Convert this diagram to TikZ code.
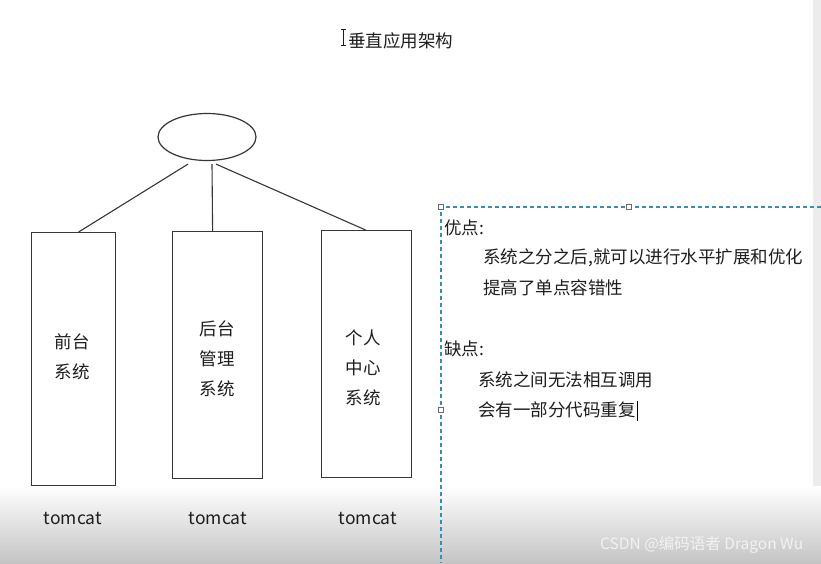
\documentclass[tikz,border=0pt]{standalone}
\usepackage{fontspec}
\setmainfont{Noto Sans CJK SC}
\usepackage{tikz}
\usetikzlibrary{positioning, shapes.geometric, calc}
\definecolor{BoxInk}{HTML}{363636}
\definecolor{TextInk}{HTML}{1E1E1E}
\definecolor{SelLine}{HTML}{3A8DB2}
\definecolor{HandleInk}{HTML}{6A6A6A}
\definecolor{BandGray}{HTML}{ECECEC}
\definecolor{FadeGray}{HTML}{C4C4C4}
\definecolor{MarkGray}{HTML}{F2F2F2}

\begin{document}
\begin{tikzpicture}[
    x=1pt, y=-1pt,
    font=\fontsize{17.5}{30}\selectfont,
    sysbox/.style={
      draw=BoxInk,
      line width=1.2pt,
      inner sep=0pt,
      anchor=north west,
    },
    boxtext/.style={
      align=center,
      inner sep=0pt,
      text=TextInk,
    },
    tclabel/.style={
      inner sep=0pt,
      text=TextInk,
    },
    note/.style={
      anchor=west,
      inner sep=0pt,
      text=TextInk,
    },
    handle/.style={
      draw=HandleInk,
      fill=white,
      line width=0.7pt,
      minimum size=5pt,
      inner sep=0pt,
    },
    sel/.style={
      draw=SelLine,
      line width=1.3pt,
      dash pattern=on 4pt off 3pt,
    },
  ]
    \useasboundingbox (0,0) rectangle (821,563);
    \fill[white] (0,0) rectangle (821,563);
    \fill[BandGray] (813,0) rectangle (821,563);
    \shade[top color=white, bottom color=FadeGray] (0,486) rectangle (821,563);

    % title and the mouse cursor in front of it
    \node[note] (title) at (348,41) {垂直应用架构};
    \draw[TextInk, line width=0.8pt]
      (343.5,29) -- (343.5,45) (341,29) -- (346,29) (341,45) -- (346,45);

    \node[ellipse, draw=BoxInk, line width=1.2pt,
      minimum width=98pt, minimum height=47pt] (top) at (207,137) {};

    \node[sysbox, minimum width=84pt, minimum height=253pt] (front) at (31,232) {};
    \node[sysbox, minimum width=90pt, minimum height=247pt] (back) at (172,231) {};
    \node[sysbox, minimum width=90pt, minimum height=247pt] (user) at (321,230) {};

    \node[boxtext] (frontTxt) at (72,357) {前台\\系统};
    \node[boxtext] (backTxt) at (217,359) {后台\\管理\\系统};
    \node[boxtext] (userTxt) at (363,368) {个人\\中心\\系统};

    \draw[BoxInk, line width=1.1pt] ($(top.south)+(-19,3)$) -- ($(front.north)+(5,0)$);
    \draw[BoxInk, line width=1.1pt] ($(top.south)+(5,3)$) -- ($(back.north)+(-5,0)$);
    \draw[BoxInk, line width=1.1pt] ($(top.south)+(9,3)$) -- ($(user.north)+(-1,0)$);

    \node[tclabel] (tc1) at (73,519) {tomcat};
    \node[tclabel] (tc2) at (218,519) {tomcat};
    \node[tclabel] (tc3) at (368,519) {tomcat};

    % selected text frame on the right
    \coordinate (selTL) at (441,207);
    \coordinate (selTR) at (821,207);
    \coordinate (selBL) at (441,563);
    \draw[sel] (selTR) -- (selTL) -- (selBL);
    \node[handle] (h1) at (selTL) {};
    \node[handle] (h2) at (629,207) {};
    \node[handle] (h3) at (441,410) {};

    \node[note] (pro) at (444,228) {优点:};
    \node[note] (pro1) at (483,258) {系统之分之后,就可以进行水平扩展和优化};
    \node[note] (pro2) at (483,288) {提高了单点容错性};
    \node[note] (con) at (444,349) {缺点:};
    \node[note] (con1) at (478,380) {系统之间无法相互调用};
    \node[note] (con2) at (478,410) {会有一部分代码重复};
    \draw[black, line width=1pt]
      ([xshift=1.5pt,yshift=1pt]con2.north east) -- ([xshift=1.5pt,yshift=-3pt]con2.south east);

    \node[anchor=west, inner sep=0pt, text=MarkGray,
      font=\fontsize{15.5}{18}\selectfont] (mark) at (600,545) {CSDN @编码语者 Dragon Wu};
  \end{tikzpicture}
\end{document}
